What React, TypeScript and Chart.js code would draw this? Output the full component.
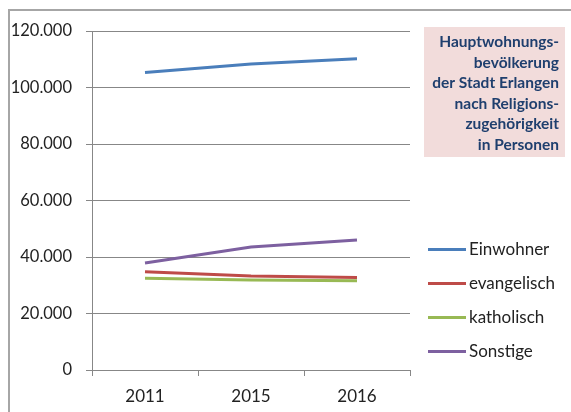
import React, { useEffect, useRef } from "react";
import { Chart, registerables } from "chart.js";

Chart.register(...registerables);

const categories = ["2011", "2015", "2016"];
const einwohner = [105300, 108300, 110200];
const evangelisch = [34800, 33300, 32700];
const katholisch = [32500, 31900, 31600];
const sonstige = [37900, 43500, 46000];
const seriesNames = ["Einwohner", "evangelisch", "katholisch", "Sonstige"];
const seriesColors = ["#4A7EBB", "#BE4B48", "#98B954", "#7D60A0"];
const titleLines = [
  "Hauptwohnungs-",
  "bevölkerung",
  "der Stadt Erlangen",
  "nach Religions-",
  "zugehörigkeit",
  "in Personen",
];

const FONT = "Lato, 'Open Sans', sans-serif";

const decorPlugin = {
  id: "decor",
  beforeDraw(chart: any) {
    const ctx = chart.ctx;
    ctx.save();
    ctx.fillStyle = "#ffffff";
    ctx.fillRect(0, 0, chart.width, chart.height);
    // outer frame
    ctx.strokeStyle = "#A6A6A6";
    ctx.lineWidth = 2;
    ctx.beginPath();
    ctx.moveTo(9, 420);
    ctx.lineTo(9, 10);
    ctx.lineTo(580, 10);
    ctx.stroke();
    // title box
    ctx.fillStyle = "#F2DCDB";
    ctx.fillRect(424, 27, 141, 130);
    ctx.fillStyle = "#1F3F6E";
    ctx.font = `bold 15.5px ${FONT}`;
    ctx.textAlign = "right";
    ctx.textBaseline = "middle";
    titleLines.forEach((t, i) => {
      ctx.fillText(t, 559, 42 + i * 20.5);
    });
    ctx.restore();
  },
  afterDraw(chart: any) {
    const ctx = chart.ctx;
    ctx.save();
    ctx.font = `17px ${FONT}`;
    ctx.textBaseline = "middle";
    ctx.textAlign = "left";
    chart.data.datasets.forEach((ds: any, i: number) => {
      const y = 249.5 + i * 34;
      ctx.strokeStyle = ds.borderColor;
      ctx.lineWidth = 3;
      ctx.beginPath();
      ctx.moveTo(428, y);
      ctx.lineTo(466, y);
      ctx.stroke();
      ctx.fillStyle = "#222222";
      ctx.fillText(ds.label, 469, y);
    });
    ctx.restore();
  },
};

export default function App() {
  const ref = useRef<HTMLCanvasElement>(null);
  useEffect(() => {
    document.body.style.margin = "0";
    const values = [einwohner, evangelisch, katholisch, sonstige];
    const chart = new Chart(ref.current!, {
      type: "line",
      data: {
        labels: categories,
        datasets: values.map((v, i) => ({
          label: seriesNames[i],
          data: v,
          borderColor: seriesColors[i],
          backgroundColor: seriesColors[i],
          borderWidth: 3,
          pointRadius: 0,
          tension: 0,
        })),
      },
      options: {
        animation: false,
        responsive: false,
        layout: { padding: { top: 31, right: 161, left: 0, bottom: 0 } },
        plugins: { legend: { display: false }, tooltip: { enabled: false } },
        scales: {
          x: {
            offset: true,
            grid: {
              offset: true,
              drawOnChartArea: false,
              drawTicks: true,
              tickLength: 6,
              color: "#878787",
            },
            border: { color: "#878787", width: 1 },
            ticks: {
              color: "#222222",
              font: { family: FONT, size: 17 },
              padding: 10,
              maxRotation: 0,
            },
            afterFit: (s: any) => {
              s.height = 42;
            },
          },
          y: {
            min: 0,
            max: 120000,
            ticks: {
              stepSize: 20000,
              color: "#222222",
              font: { family: FONT, size: 16.5 },
              padding: 14,
              callback: (v: any) => Number(v).toLocaleString("de-DE"),
            },
            grid: { color: "#878787", tickLength: 6, drawTicks: true },
            border: { color: "#878787", width: 1 },
            afterFit: (s: any) => {
              s.width = 92;
            },
          },
        },
      },
      plugins: [decorPlugin],
    });
    return () => chart.destroy();
  }, []);
  return <canvas ref={ref} width={571} height={412} style={{ display: "block" }} />;
}
